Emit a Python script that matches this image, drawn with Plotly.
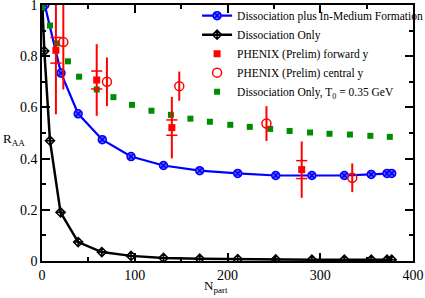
import plotly.graph_objects as go

# Dissociation plus In-Medium Formation (blue)
blue_x = [3, 20.5, 39, 65, 96, 131, 170, 211, 252, 291, 326, 355, 372, 377]
blue_y = [1.0, 0.734, 0.575, 0.474, 0.408, 0.373, 0.353, 0.342, 0.334, 0.334, 0.334, 0.338, 0.342, 0.342]

# Dissociation Only (black)
black_x = [0.5, 2.5, 8.6, 20, 39, 64.5, 96, 131, 170, 211, 252, 291, 326, 355, 372, 377]
black_y = [0.99, 0.82, 0.47, 0.19, 0.074, 0.035, 0.02, 0.012, 0.009, 0.007, 0.006, 0.005, 0.005, 0.005, 0.005, 0.005]

# Dissociation Only, T0 = 0.35 GeV (green)
green_x = [0, 8.6, 16, 28, 40, 59, 77, 97, 118, 139, 160, 181, 203, 224, 246, 267, 289, 310, 332, 354, 375]
green_y = [0.99, 0.92, 0.85, 0.78, 0.72, 0.67, 0.64, 0.61, 0.587, 0.571, 0.556, 0.544, 0.532, 0.524,
           0.516, 0.508, 0.502, 0.497, 0.494, 0.489, 0.485]

# PHENIX (Prelim) forward y
fwd_x = [15, 59, 140, 280]
fwd_y = [0.823, 0.707, 0.521, 0.357]
fwd_err = [0.25, 0.14, 0.12, 0.11]
fwd_sys = [0.05, 0.035, 0.03, 0.035]

# PHENIX (Prelim) central y
cen_x = [23, 70, 148, 242, 334.5]
cen_y = [0.855, 0.70, 0.683, 0.537, 0.325]
cen_err = [0.185, 0.095, 0.057, 0.068, 0.056]

# tick labels
x_ticks = [0, 100, 200, 300, 400]
x_ticklabels = ["0", "100", "200", "300", "400"]
y_ticks = [0, 0.2, 0.4, 0.6, 0.8, 1.0]
y_ticklabels = ["0", "0.2", "0.4", "0.6", "0.8", "1"]

RED = "#ff0000"
BLUE = "#0000ff"
GREEN = "#008c00"
FONT = "Liberation Serif"

fig = go.Figure()

fig.add_trace(go.Scatter(
    x=black_x, y=black_y, mode="lines+markers", name="Dissociation Only",
    line=dict(color="black", width=2.5),
    marker=dict(symbol="diamond-cross-open", size=7, color="black", line=dict(width=1.5, color="black")),
))
fig.add_trace(go.Scatter(
    x=blue_x, y=blue_y, mode="lines+markers", name="Dissociation plus In-Medium Formation",
    line=dict(color=BLUE, width=2.2),
    marker=dict(symbol="circle-x", size=8, color="#6060ff", line=dict(width=1.5, color=BLUE)),
))
fig.add_trace(go.Scatter(
    x=green_x, y=green_y, mode="markers", name="Dissociation Only, T<sub>0</sub> = 0.35 GeV",
    marker=dict(symbol="square", size=6, color=GREEN),
))
fig.add_trace(go.Scatter(
    x=fwd_x, y=fwd_y, mode="markers", name="PHENIX (Prelim) forward y",
    marker=dict(symbol="square", size=7, color=RED),
    error_y=dict(type="data", array=fwd_err, color=RED, thickness=2, width=0),
))
# systematic caps for forward y
sys_x = fwd_x + fwd_x
sys_y = [y + s for y, s in zip(fwd_y, fwd_sys)] + [y - s for y, s in zip(fwd_y, fwd_sys)]
fig.add_trace(go.Scatter(
    x=sys_x, y=sys_y, mode="markers", showlegend=False, hoverinfo="skip",
    marker=dict(symbol="line-ew", size=8, line=dict(width=1.5, color=RED), color=RED),
))
fig.add_trace(go.Scatter(
    x=cen_x, y=cen_y, mode="markers", name="PHENIX (Prelim) central y",
    marker=dict(symbol="circle-open", size=9, color=RED, line=dict(width=1.5, color=RED)),
    error_y=dict(type="data", array=cen_err, color=RED, thickness=2, width=0),
))

order = ["Dissociation plus In-Medium Formation", "Dissociation Only",
         "PHENIX (Prelim) forward y", "PHENIX (Prelim) central y",
         "Dissociation Only, T<sub>0</sub> = 0.35 GeV"]
for tr in fig.data:
    if tr.name in order:
        tr.legendrank = order.index(tr.name) + 1

axis_common = dict(
    showgrid=False, zeroline=False, showline=True, linecolor="black", linewidth=1.5,
    mirror="allticks", ticks="inside", ticklen=8, tickwidth=1.5, tickcolor="black",
    tickfont=dict(family=FONT, size=14, color="black"), automargin=False,
    ticklabeloverflow="allow",
)
fig.update_xaxes(range=[0, 400], tickmode="array", tickvals=x_ticks, ticktext=x_ticklabels,
                 minor=dict(dtick=50, tick0=0, ticks="inside", ticklen=4, tickwidth=1.5, tickcolor="black"),
                 **axis_common)
fig.update_yaxes(range=[0, 1], tickmode="array", tickvals=y_ticks, ticktext=y_ticklabels,
                 minor=dict(dtick=0.1, tick0=0, ticks="inside", ticklen=4, tickwidth=1.5, tickcolor="black"),
                 **axis_common)

fig.update_layout(
    width=425, height=298,
    margin=dict(l=42, r=12, t=5, b=37, autoexpand=False),
    paper_bgcolor="white", plot_bgcolor="white",
    font=dict(family=FONT, color="black"),
    showlegend=True,
    legend=dict(x=0.418, y=1.015, xanchor="left", yanchor="top",
                bgcolor="rgba(0,0,0,0)", font=dict(family=FONT, size=11.5),
                tracegroupgap=0, itemwidth=30),
    annotations=[
        dict(text="R<sub>AA</sub>", x=-0.11, y=0.475, xref="paper", yref="paper",
             showarrow=False, xanchor="left", yanchor="middle",
             font=dict(family=FONT, size=13)),
        dict(text="N<sub>part</sub>", x=0.47, y=-0.06, xref="paper", yref="paper",
             showarrow=False, xanchor="center", yanchor="top",
             font=dict(family=FONT, size=13)),
    ],
)

fig.write_html("out.html", config={"displayModeBar": False},
               post_script="document.body.style.margin='0';")
